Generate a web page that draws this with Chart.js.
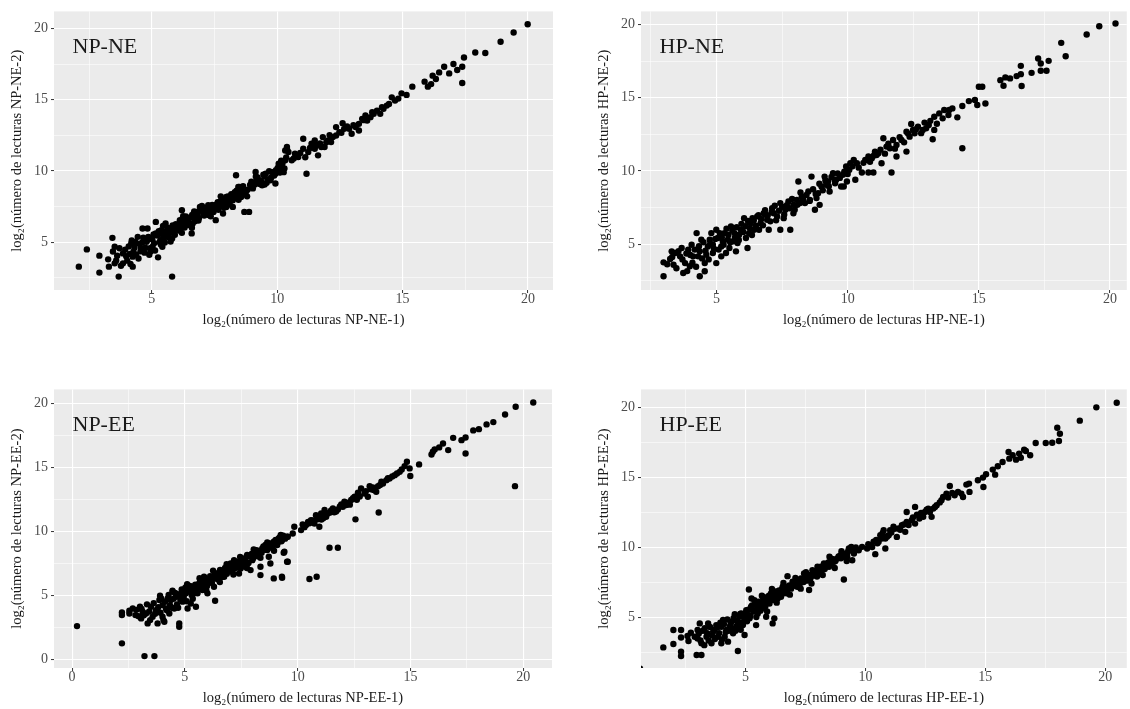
<!DOCTYPE html>
<html>
<head>
<meta charset="utf-8">
<script src="https://cdn.jsdelivr.net/npm/chart.js@4.4.1/dist/chart.umd.min.js"></script>
<style>
  body { margin: 0; background: #ffffff; width: 1130px; height: 709px; position: relative; overflow: hidden; }
  canvas { position: absolute; }
</style>
</head>
<body>
<canvas id="npne" width="560" height="331" style="left:0px;top:0px"></canvas>
<canvas id="hpne" width="543" height="331" style="left:587px;top:0px"></canvas>
<canvas id="npee" width="559" height="331" style="left:0px;top:378px"></canvas>
<canvas id="hpee" width="543" height="331" style="left:587px;top:378px"></canvas>
<script>
// log2 read counts, replicate 1 (x) vs replicate 2 (y)
const npnePoints = [
  [2.09,3.29],[2.41,4.5],[2.91,4.06],[2.91,2.87],[3.68,2.59],[5.81,2.59],[3.43,5.31],[3.26,3.8],[3.29,3.29],[3.52,3.52],
  [3.52,4.68],[3.85,4.22],[3.85,3.52],[4.18,4.92],[4.24,3.99],[4.24,3.29],[4.44,5.38],[4.57,4.57],[4.63,5.97],[4.83,5.97],
  [4.83,5.15],[5.03,4.68],[5.16,5.62],[5.25,3.94],[5.35,5.15],[5.42,4.68],[5.16,6.43],[5.61,5.62],[5.81,5.27],[5.55,6.32],
  [5.88,5.85],[6.2,5.66],[6.14,6.32],[6.33,6.67],[6.2,7.25],[6.59,5.62],[6.66,6.78],[6.79,7.13],[6.92,7.48],[7.12,7.02],
  [7.25,7.6],[7.44,7.25],[7.55,6.55],[7.71,7.72],[7.84,7.02],[7.97,7.48],[7.97,8.18],[8.23,7.95],[8.23,7.48],[8.36,9.7],
  [8.49,8.88],[8.56,8.18],[8.75,8.53],[8.69,7.13],[8.88,7.13],[9.01,9.16],[9.14,9.93],[9.27,9.35],[9.4,9.0],[9.54,9.81],
  [9.73,9.35],[9.93,9.12],[9.93,9.81],[10.06,10.51],[10.19,10.16],[10.32,11.44],[10.39,11.68],
  [3.62,4.05],[3.94,4.47],[4.02,3.71],[4.13,4.18],[4.31,4.63],[4.38,4.12],[4.52,4.88],[4.66,5.32],[4.71,4.27],[4.79,5.04],
  [4.93,4.58],[5.02,5.21],[5.09,4.93],[5.22,5.47],[5.31,5.02],[5.38,5.84],[5.47,5.31],[5.63,6.02],[5.69,5.61],[5.83,6.18],
  [5.92,5.52],[6.02,6.11],[6.08,5.83],[6.23,6.38],[6.31,6.04],[6.42,6.52],[6.48,6.21],[6.61,6.92],[6.72,6.47],[6.83,7.03],
  [6.88,6.71],[7.04,7.18],[7.09,6.88],[7.21,7.43],[7.33,7.08],[7.41,7.62],[7.52,7.31],[7.63,7.81],[7.68,7.52],[7.82,8.02],
  [7.91,7.63],[8.04,8.21],[8.12,7.88],[8.31,8.52],[8.42,8.22],[8.58,8.74],[8.71,8.41],[8.92,9.03],[9.03,8.78],[9.18,9.32],
  [9.31,9.08],[9.49,9.62],[9.62,9.41],[9.81,9.92],[9.88,9.68],[10.02,10.21],[10.11,9.89],[10.21,10.52],[10.29,10.18],
  [3.45,4.35],[3.58,3.72],[3.71,4.58],[3.77,3.35],[3.98,4.02],[4.08,4.71],[4.15,3.48],[4.27,4.33],[4.35,5.02],[4.47,3.86],
  [4.55,4.37],[4.62,4.98],[4.74,4.62],[4.86,5.38],[4.95,4.35],[5.07,5.55],[5.13,4.42],[5.28,5.78],[5.36,4.85],[5.44,5.52],
  [5.52,4.98],[5.58,5.78],[5.66,5.36],[5.75,5.92],[5.85,5.68],[5.96,6.27],[6.05,5.95],[6.12,6.55],[6.18,6.05],[6.27,6.22],
  [6.36,6.81],[6.45,6.36],[6.53,6.72],[6.63,6.32],[6.69,7.17],[6.77,6.84],[6.86,6.52],[6.95,7.33],[7.06,6.96],[7.15,7.21],
  [7.27,6.91],[7.36,7.47],[7.46,7.12],[7.58,7.66],[7.66,7.28],[7.76,7.91],[7.88,7.42],[7.95,7.84],[8.08,8.05],[8.17,8.38],
  [8.27,8.14],[8.38,8.61],[8.46,7.98],[8.53,8.47],[8.64,8.94],[8.82,8.68],[8.97,9.25],[9.11,9.06],[9.22,9.55],[9.36,9.28],
  [9.45,9.74],[9.58,9.17],[9.68,9.98],[9.76,9.55],[9.95,10.05],[10.08,10.34],[10.16,10.72],[10.26,9.92],[10.36,10.95],
  [4.2,5.12],[4.9,4.12],[5.45,6.15],[5.75,5.05],[6.25,6.82],[6.6,6.02],[7.0,7.55],[7.35,6.82],[7.75,8.22],[8.1,7.65],
  [8.45,8.88],[8.8,8.22],[9.15,9.62],[9.5,9.05],
  [19.99,20.3],[19.43,19.72],[18.91,19.07],[17.9,18.32],[18.3,18.28],[17.45,17.97],[17.03,17.51],[17.38,17.32],[17.38,16.18],[16.66,17.32],
  [16.46,16.92],[16.86,16.85],[17.18,17.09],[16.2,16.69],[15.88,16.27],[16.01,15.92],[16.14,16.1],[16.33,16.46],[15.39,15.92],[15.16,15.34],
  [14.96,15.45],[14.7,14.94],[14.57,15.17],[14.37,14.59],[14.18,14.48],[13.98,14.24],[13.85,14.01],[13.72,13.78],[13.52,13.89],[13.59,13.54],
  [13.26,13.31],[13.13,13.08],[13.26,12.84],[12.87,12.96],[12.61,13.36],[12.67,12.96],[12.48,12.73],[12.35,13.08],[12.35,12.49],[12.22,12.38],
  [12.02,12.14],[11.82,12.38],[11.76,11.68],[11.5,12.14],[11.5,11.56],[11.37,11.91],[11.24,11.33],[11.04,12.26],[11.04,11.56],[10.84,10.98],
  [10.71,11.21],[10.39,11.56],[10.32,10.75],[10.58,10.75],[11.17,9.81],[10.19,10.28],[10.12,9.93],[10.45,11.33],[11.63,11.1],[11.89,11.68],
  [12.15,12.03],[12.97,12.61],[13.39,13.66],[14.11,14.01],[14.24,14.36],
  [10.66,10.88],[10.92,11.27],[11.12,10.97],[11.31,11.62],[11.56,11.79],[11.71,11.93],[11.96,12.02],[12.09,12.52],[12.56,12.68],[12.79,13.12],
  [13.04,13.21],[13.46,13.57],[13.79,14.12],[14.46,14.71],[14.83,15.08]
];

const hpnePoints = [
  [2.98,2.8],[2.98,3.75],[3.23,3.98],[3.36,3.59],[3.42,4.39],[3.61,4.16],[3.73,3.02],[3.8,3.7],[3.92,4.61],[3.98,3.48],
  [4.11,4.16],[4.24,5.75],[4.36,2.8],[4.36,4.5],[4.55,3.14],[4.55,3.7],[4.42,5.3],[4.67,4.84],[4.8,5.75],[4.86,4.39],
  [4.99,5.98],[5.05,5.41],[5.18,4.84],[5.3,5.75],[5.43,5.3],[4.99,3.7],[5.18,4.16],[5.49,4.73],[5.55,6.2],[5.68,5.75],
  [5.8,5.07],[5.74,4.5],[5.93,5.98],[6.12,5.41],[6.18,4.73],[6.05,6.77],[6.3,6.43],[6.43,5.98],[6.55,6.89],[6.68,6.43],
  [6.8,7.11],[6.93,6.66],[6.99,5.98],[7.12,7.45],[7.31,6.89],[7.43,5.98],[7.43,7.8],[7.62,7.34],[7.74,7.91],[7.81,5.98],
  [7.93,7.11],[8.06,8.02],[8.12,9.27],[8.25,8.25],[8.37,7.8],[8.5,8.59],[8.62,9.61],[8.75,7.34],[8.81,8.14],[8.93,7.68],
  [9.0,8.93],[9.12,9.61],[9.25,9.27],[9.31,8.59],[9.44,9.84],[9.56,9.39],[9.75,8.93],[9.81,9.73],[9.94,10.3],[10.06,10.07],
  [3.29,4.5],[3.67,4.73],[4.05,4.95],[4.3,4.16],[4.61,4.27],[4.74,5.3],[4.86,4.95],[5.24,5.18],[5.36,4.39],[5.61,5.18],
  [5.86,5.64],[6.24,5.75],[6.37,6.77],[6.62,5.98],[6.87,7.0],[7.18,7.11],[7.56,6.77],[7.93,7.68],[8.18,7.8],[8.56,8.02],
  [8.87,8.48],[9.18,9.05],[9.5,9.39],
  [3.12,3.62],[3.31,4.12],[3.47,3.35],[3.55,4.52],[3.7,3.95],[3.85,4.35],[3.88,3.15],[4.0,4.25],[4.08,3.72],[4.17,4.62],
  [4.22,3.45],[4.33,4.85],[4.45,4.02],[4.5,5.12],[4.58,4.55],[4.7,3.95],[4.76,5.02],[4.9,4.68],[4.95,5.35],[5.08,4.62],
  [5.12,5.75],[5.2,5.45],[5.27,4.95],[5.38,6.05],[5.45,5.62],[5.52,5.12],[5.6,5.92],[5.7,5.42],[5.77,6.15],[5.85,5.28],
  [5.95,6.38],[6.02,5.82],[6.1,6.22],[6.2,6.58],[6.27,6.08],[6.35,5.62],[6.42,6.62],[6.5,6.25],[6.6,6.98],[6.7,6.72],
  [6.77,6.28],[6.85,7.32],[6.95,6.95],[7.05,6.55],[7.1,7.18],[7.22,7.62],[7.27,6.62],[7.38,7.28],[7.5,7.55],[7.58,7.02],
  [7.68,7.65],[7.78,7.45],[7.88,8.08],[7.98,7.35],[8.08,7.68],[8.2,8.52],[8.3,8.05],[8.43,8.35],[8.55,7.95],[8.68,8.75],
  [8.78,8.42],[8.92,9.12],[9.05,8.68],[9.15,9.35],[9.28,8.95],[9.38,9.58],[9.52,9.15],[9.62,9.82],[9.7,9.52],[9.87,9.95],
  [10.0,9.78],
  [20.21,20.07],[19.59,19.89],[19.11,19.32],[18.14,18.75],[18.31,17.84],[17.66,17.52],[17.26,17.68],[17.36,17.34],[17.36,16.84],[17.58,16.84],
  [17.01,16.7],[16.6,17.18],[16.6,16.61],[16.63,15.8],[16.44,16.48],[16.19,16.32],[16.01,16.39],[15.82,16.2],[15.94,15.82],[15.0,15.75],
  [15.13,15.75],[15.25,14.61],[14.94,14.5],[14.85,14.84],[14.62,14.77],[14.37,14.43],[14.37,11.55],[14.18,13.66],[13.99,14.27],[13.84,13.82],
  [13.68,14.16],[13.62,13.59],[13.49,13.93],[13.3,13.7],[13.24,12.16],[13.3,12.8],[13.09,13.14],[12.93,13.3],[12.86,12.8],[12.68,13.02],
  [12.55,12.57],[12.42,13.2],[12.36,12.34],[12.24,12.68],[12.24,11.32],[12.05,12.11],[11.86,11.77],[11.86,10.98],[11.73,12.11],[11.67,9.89],
  [11.61,11.55],[11.48,11.66],[11.36,12.23],[11.29,10.52],[11.17,11.2],[11.04,11.32],[10.92,10.86],[10.79,10.98],[10.67,10.75],[10.98,9.89],
  [10.79,9.89],[10.54,9.89],[10.35,10.52],[10.23,10.75],[10.1,10.52],[10.04,10.07],[10.29,9.39],[9.97,9.27],[9.85,8.93],[9.91,9.84],
  [11.1,11.09],[12.49,12.8],[12.99,12.91],[13.87,14.16],
  [10.18,10.32],[10.42,10.22],[10.6,10.55],[10.85,10.62],[11.0,11.05],[11.25,11.45],[11.42,11.18],[11.55,11.85],[11.8,11.52],[11.98,12.3],
  [12.15,11.95],[12.3,12.55],[12.6,12.85],[12.8,12.58],[13.15,13.42],[13.4,13.22]
];

const npeePoints = [
  [0.22,2.58],[2.21,1.23],[2.21,3.44],[2.21,3.65],[2.54,3.78],[2.54,3.57],[2.81,3.44],[3.01,4.09],[3.06,3.18],[3.21,0.23],
  [3.65,0.23],[3.28,3.57],[3.35,2.79],[3.5,4.09],[3.57,3.31],[3.72,3.83],[3.79,2.79],[4.01,4.22],[4.01,3.31],[4.09,2.92],
  [4.24,4.75],[4.31,3.57],[4.46,5.27],[4.53,3.96],[4.75,2.79],[4.75,2.53],[4.82,5.14],[4.9,4.49],[4.97,5.4],[5.12,3.96],
  [5.26,4.35],[5.34,5.66],[5.49,4.09],[5.56,5.14],[5.63,5.92],[5.78,5.4],[5.93,6.05],[6.0,5.14],[6.15,6.18],[6.29,5.66],
  [6.34,4.56],[6.37,6.57],[6.51,6.18],[6.59,6.83],[6.74,6.44],[6.96,7.22],[7.1,6.83],[7.18,7.74],[7.32,7.35],[7.4,6.7],
  [7.62,7.74],[7.76,8.14],[7.91,6.96],[7.99,7.74],[8.13,8.4],[8.35,7.22],[8.35,6.57],[8.43,8.66],[8.57,8.92],[8.72,8.01],
  [8.79,7.48],[8.94,6.31],[8.94,9.18],[9.16,9.44],[9.31,6.36],[9.38,8.32],[9.53,9.57],[9.53,7.61],
  [2.69,3.96],[3.13,3.7],[3.87,4.62],[4.16,3.96],[4.38,4.62],[4.6,4.88],[5.04,5.14],[5.19,5.53],[5.41,5.14],[5.71,5.66],
  [5.85,6.44],[6.22,6.31],[6.44,6.7],[6.81,6.96],[7.03,7.48],[7.47,7.09],[7.69,7.35],[8.06,8.01],[8.28,8.27],[8.65,8.53],
  [8.87,8.79],[9.09,8.92],[9.31,9.31],
  [2.85,3.85],[2.95,3.35],[3.08,3.92],[3.18,3.42],[3.32,4.28],[3.42,3.72],[3.46,3.05],[3.62,4.38],[3.68,3.55],[3.82,4.05],
  [3.92,3.62],[3.95,4.75],[4.05,3.05],[4.12,4.48],[4.2,3.82],[4.28,5.02],[4.34,4.22],[4.42,4.02],[4.5,4.72],[4.57,5.18],
  [4.65,4.28],[4.72,5.02],[4.8,4.65],[4.86,5.45],[4.95,4.88],[5.02,5.58],[5.08,4.52],[5.15,5.28],[5.22,5.72],[5.3,5.02],
  [5.38,5.42],[5.46,5.82],[5.52,5.35],[5.6,5.62],[5.68,6.12],[5.75,5.55],[5.82,5.92],[5.9,6.28],[5.98,5.72],[6.06,6.02],
  [6.12,6.48],[6.2,5.95],[6.26,6.42],[6.32,6.72],[6.4,6.28],[6.48,6.52],[6.56,6.98],[6.64,6.42],[6.7,6.72],[6.78,7.12],
  [6.86,6.68],[6.92,6.98],[7.0,7.05],[7.06,7.38],[7.14,7.02],[7.22,7.55],[7.28,7.15],[7.36,7.62],[7.44,7.42],[7.52,7.85],
  [7.58,7.25],[7.66,7.72],[7.72,7.98],[7.82,7.52],[7.88,8.02],[7.96,8.22],[8.02,7.88],[8.1,8.12],[8.18,8.52],[8.24,8.05],
  [8.32,8.45],[8.4,8.32],[8.48,8.82],[8.55,8.55],[8.62,8.78],[8.7,8.68],[8.78,9.05],[8.84,8.85],[8.92,8.95],[9.02,9.32],
  [9.12,9.12],[9.2,9.52],[9.28,9.22],[9.36,9.65],[9.44,9.42],
  [5.1,5.85],[5.35,4.72],[5.65,6.32],[5.95,5.38],[6.25,6.92],[6.55,6.02],[6.85,7.42],[7.15,6.62],[7.45,7.98],[7.75,7.12],
  [8.05,8.58],[8.35,7.92],[8.65,9.12],[8.95,8.48],[9.25,9.72],[4.45,5.35],[4.7,4.02],[3.9,4.95],
  [20.44,20.08],[19.66,19.74],[19.19,19.14],[18.67,18.54],[18.37,18.36],[18.03,17.99],[17.78,17.89],[19.63,13.53],[17.44,17.34],[17.44,16.09],
  [17.26,17.13],[16.89,17.31],[16.67,16.35],[16.44,16.87],[16.27,16.56],[16.07,16.4],[15.93,16.01],[15.99,16.22],[15.38,15.23],[14.99,14.32],
  [14.96,14.92],[14.84,15.44],[14.74,15.1],[14.52,14.65],[14.3,14.39],[14.07,14.13],[13.93,14.0],[13.78,13.74],[13.59,11.47],[13.56,13.53],
  [13.48,13.09],[13.33,13.43],[13.19,13.53],[13.11,12.7],[12.81,13.35],[12.67,13.01],[12.56,10.93],[12.52,12.7],[12.37,12.44],[12.22,12.23],
  [12.07,12.31],[11.93,12.1],[11.78,11.71],[11.78,8.71],[11.41,8.71],[11.56,11.79],[11.41,11.45],[11.19,11.66],[11.04,11.4],[10.81,11.26],
  [10.84,6.44],[10.52,6.26],[10.74,10.61],[10.59,10.87],[10.37,10.48],[10.22,10.53],[10.15,10.09],[9.85,10.35],[9.78,9.83],[9.56,9.57],
  [9.41,8.4],[9.56,7.61],[9.3,6.44],[9.26,9.31],[10.96,10.35],[11.26,11.13],[12.0,11.92],[12.96,12.96],
  [10.46,10.72],[10.88,10.94],[11.13,11.02],[11.62,11.49],[11.87,11.94],[12.31,12.08],[12.62,12.47],[13.02,13.13],[13.37,13.22],[13.71,13.88],
  [14.19,14.28],[14.61,14.83],
  [10.3,10.32],[10.52,10.62],[10.68,10.85],[10.92,11.15],[11.05,10.92],[11.3,11.35],[11.48,11.62],[11.7,11.55],[12.15,12.05],[12.45,12.58],
  [12.75,12.72],[13.25,13.28],[13.65,13.62],[14.0,14.15],[14.4,14.52]
];

const hpeePoints = [
  [0.6,1.35],[1.57,2.86],[1.99,4.1],[1.99,3.1],[2.31,4.1],[2.31,3.57],[2.31,2.55],[2.31,2.25],[2.58,3.67],[2.96,2.32],
  [3.16,2.32],[3.0,4.1],[3.0,3.5],[3.09,4.57],[3.16,3.15],[3.3,4.22],[3.37,3.62],[3.44,4.57],[3.58,3.15],[3.65,3.98],
  [3.78,4.45],[3.85,3.62],[3.99,3.15],[4.06,4.81],[4.2,4.1],[4.27,3.27],[4.41,4.69],[4.48,3.86],[4.61,4.33],[4.68,2.6],
  [4.75,5.05],[4.89,4.45],[4.96,3.74],[5.03,5.52],[5.14,6.99],[5.17,4.93],[5.23,5.76],[5.37,6.23],[5.44,4.45],[5.51,5.28],
  [5.65,5.99],[5.79,5.64],[5.86,5.05],[5.93,6.47],[6.13,4.57],[6.2,4.93],[6.2,6.23],[6.34,6.83],[6.48,6.47],[6.55,7.18],
  [6.75,6.71],[6.75,7.94],[6.96,7.54],[7.17,7.18],[7.31,7.78],[7.44,8.13],[7.65,6.95],[7.72,7.89],[7.79,8.37],[7.99,8.13],
  [8.14,8.61],[8.27,8.84],[8.48,8.61],[8.55,9.2],[8.69,8.96],[9.1,7.7],[8.96,9.44],[9.17,9.32],[9.31,9.91],[9.41,10.03],
  [3.99,4.33],[4.13,3.62],[4.34,4.33],[4.54,4.81],[4.68,4.57],[4.82,5.28],[4.96,4.81],[5.1,5.17],[5.3,5.52],[5.58,5.76],
  [5.72,6.47],[6.0,5.99],[6.06,6.71],[6.34,6.35],[6.62,6.95],[6.89,7.18],[7.1,7.66],[7.38,7.54],[7.58,7.89],[7.86,8.13],
  [8.07,8.25],[8.34,8.61],[8.62,9.08],[8.83,9.2],[9.03,9.56],[9.24,9.56],
  [2.62,3.32],[2.72,3.9],[2.88,3.62],[3.05,3.85],[3.12,3.35],[3.22,4.05],[3.28,3.02],[3.4,3.88],[3.46,3.35],[3.52,4.32],
  [3.6,3.72],[3.7,4.12],[3.72,3.45],[3.82,4.28],[3.9,3.88],[3.95,4.62],[4.02,3.42],[4.1,4.52],[4.17,3.95],[4.24,4.85],
  [4.3,4.05],[4.38,4.55],[4.45,4.18],[4.5,4.95],[4.58,4.05],[4.65,4.75],[4.72,4.35],[4.78,5.25],[4.85,4.62],[4.92,5.05],
  [5.0,5.32],[5.06,4.72],[5.12,5.55],[5.2,5.12],[5.27,5.85],[5.34,5.42],[5.41,5.95],[5.48,5.62],[5.55,6.12],[5.62,5.48],
  [5.7,6.02],[5.76,6.35],[5.83,5.82],[5.9,6.15],[5.98,6.55],[6.05,6.25],[6.12,6.62],[6.18,6.42],[6.26,6.85],[6.32,6.58],
  [6.4,6.92],[6.46,6.75],[6.52,7.02],[6.6,6.72],[6.68,7.15],[6.72,6.88],[6.82,7.28],[6.9,7.05],[6.98,7.35],[7.05,7.42],
  [7.12,7.22],[7.2,7.55],[7.26,7.38],[7.35,7.72],[7.42,7.52],[7.5,7.85],[7.55,7.62],[7.62,8.02],[7.7,7.75],[7.78,8.08],
  [7.84,7.98],[7.92,8.3],[7.98,7.92],[8.05,8.42],[8.12,8.25],[8.2,8.55],[8.3,8.45],[8.4,8.72],[8.45,8.92],[8.58,8.82],
  [8.66,9.15],[8.75,9.02],[8.88,9.35],[8.98,9.22],[9.1,9.55],[9.2,9.45],[9.28,9.72],[9.36,9.82],[9.48,9.85],[9.6,9.98],
  [5.25,6.35],[5.45,5.02],[5.68,6.55],[5.9,5.42],[6.1,7.02],[6.3,6.05],[6.58,7.45],[6.85,6.62],[7.08,7.82],[7.3,7.05],
  [7.52,8.22],[7.75,7.42],[8.0,8.62],[8.22,8.02],[8.5,9.32],[8.72,8.52],[9.0,9.72],[9.22,9.02],[4.55,5.22],[4.8,4.12],
  [20.48,20.31],[19.63,19.98],[18.94,19.03],[18.0,18.53],[18.11,18.1],[18.07,17.58],[17.79,17.46],[17.52,17.44],[17.1,17.44],[16.87,16.56],
  [16.69,16.87],[16.62,16.96],[16.48,16.39],[16.41,16.68],[16.28,16.25],[16.14,16.56],[15.97,16.8],[16.0,16.32],[15.72,16.08],[15.52,15.78],
  [15.41,15.18],[15.31,15.54],[15.03,15.21],[14.9,14.97],[14.92,14.3],[14.69,14.78],[14.32,14.54],[14.21,14.47],[14.0,13.83],[14.07,13.59],
  [13.86,13.95],[13.72,13.71],[13.52,14.37],[13.38,13.83],[13.24,13.59],[13.17,13.35],[12.97,13.0],[12.83,12.76],[12.76,12.17],[12.62,12.76],
  [12.48,12.52],[12.41,12.17],[12.25,12.05],[12.07,12.88],[12.07,11.69],[11.93,11.93],[11.72,11.81],[11.72,12.52],[11.66,11.1],[11.52,11.57],
  [11.38,11.34],[11.31,10.74],[11.17,11.46],[11.03,11.22],[10.97,10.86],[10.83,10.62],[10.83,9.91],[10.62,10.86],[10.55,10.39],[10.41,9.51],
  [10.34,10.39],[10.21,10.15],[10.07,9.91],[9.86,10.03],[9.72,9.79],[9.52,9.56],[9.45,9.08],[9.24,9.32],[10.76,11.22],[12.69,12.52],
  [14.34,13.95],
  [10.12,10.22],[10.28,10.02],[10.45,10.52],[10.5,10.28],[10.68,10.62],[10.72,11.02],[10.9,10.75],[11.08,11.05],[11.22,11.32],[11.45,11.25],
  [11.6,11.62],[11.8,11.58],[11.98,12.12],[12.15,12.32],[12.32,12.45],[12.55,12.68],[12.9,12.88],[13.1,13.2],[13.45,13.55],[13.62,13.88]
];

// tick labels (major) and minor grid positions
const majorTicks = [0, 5, 10, 15, 20];
const minorTicks = [2.5, 7.5, 12.5, 17.5];

const FONT = 'Liberation Serif';

// grey panel background, like ggplot's theme_gray
const panelBg = {
  id: 'panelBg',
  beforeDraw(chart) {
    const a = chart.chartArea;
    const c = chart.ctx;
    c.save();
    c.fillStyle = '#ebebeb';
    c.fillRect(a.left, a.top, a.right - a.left, a.bottom - a.top);
    c.restore();
  }
};

const panelLabel = {
  id: 'panelLabel',
  afterDatasetsDraw(chart, args, opts) {
    const a = chart.chartArea;
    const c = chart.ctx;
    c.save();
    c.font = '22px "' + FONT + '"';
    c.fillStyle = '#1a1a1a';
    c.textBaseline = 'alphabetic';
    c.textAlign = 'left';
    c.fillText(opts.text, a.left + 18.5, a.top + 42);
    c.restore();
  }
};

function makeAxis(min, max, title, dir) {
  const isMajor = v => majorTicks.includes(v);
  return {
    type: 'linear',
    min: min,
    max: max,
    afterBuildTicks: s => {
      s.ticks = majorTicks.concat(minorTicks)
        .filter(v => v >= min && v <= max)
        .sort((a, b) => a - b)
        .map(v => ({ value: v }));
    },
    afterFit: s => {
      if (dir === 'x') s.height = 41; else s.width = 54;
    },
    grid: {
      color: '#ffffff',
      lineWidth: c => (c.tick && isMajor(c.tick.value)) ? 1.1 : 0.55,
      tickColor: c => (c.tick && isMajor(c.tick.value)) ? '#333333' : 'rgba(0,0,0,0)',
      tickLength: 3,
      tickWidth: 1
    },
    border: { display: false },
    ticks: {
      autoSkip: false,
      maxRotation: 0,
      padding: dir === 'x' ? -2 : 3,
      color: '#4d4d4d',
      font: { family: FONT, size: 14 },
      callback: v => isMajor(v) ? String(v) : ''
    },
    title: {
      display: true,
      text: title,
      color: '#1a1a1a',
      font: { family: FONT, size: 14.5 },
      padding: dir === 'x' ? { top: 0, bottom: 2 } : { top: 8, bottom: 0 }
    }
  };
}

function makePanel(id, points, label, xr, yr, padRight) {
  return new Chart(document.getElementById(id), {
    type: 'scatter',
    data: {
      datasets: [{
        data: points.map(p => ({ x: p[0], y: p[1] })),
        backgroundColor: '#000000',
        borderWidth: 0,
        pointRadius: 3.2,
        pointHoverRadius: 3.2
      }]
    },
    options: {
      responsive: false,
      animation: false,
      events: [],
      layout: { padding: { top: 11, right: padRight, left: 0, bottom: 0 } },
      plugins: {
        legend: { display: false },
        tooltip: { enabled: false },
        panelLabel: { text: label }
      },
      scales: {
        x: makeAxis(xr[0], xr[1], 'log\u2082(número de lecturas ' + label + '-1)', 'x'),
        y: makeAxis(yr[0], yr[1], 'log\u2082(número de lecturas ' + label + '-2)', 'y')
      }
    },
    plugins: [panelBg, panelLabel]
  });
}

makePanel('npne', npnePoints, 'NP-NE', [1.1, 21.0], [1.65, 21.2], 7);
makePanel('hpne', hpnePoints, 'HP-NE', [2.12, 20.64], [1.86, 20.9], 0);
makePanel('npee', npeePoints, 'NP-EE', [-0.8, 21.27], [-0.7, 21.1], 7);
makePanel('hpee', hpeePoints, 'HP-EE', [0.64, 20.9], [1.39, 21.26], 0);
</script>
</body>
</html>
